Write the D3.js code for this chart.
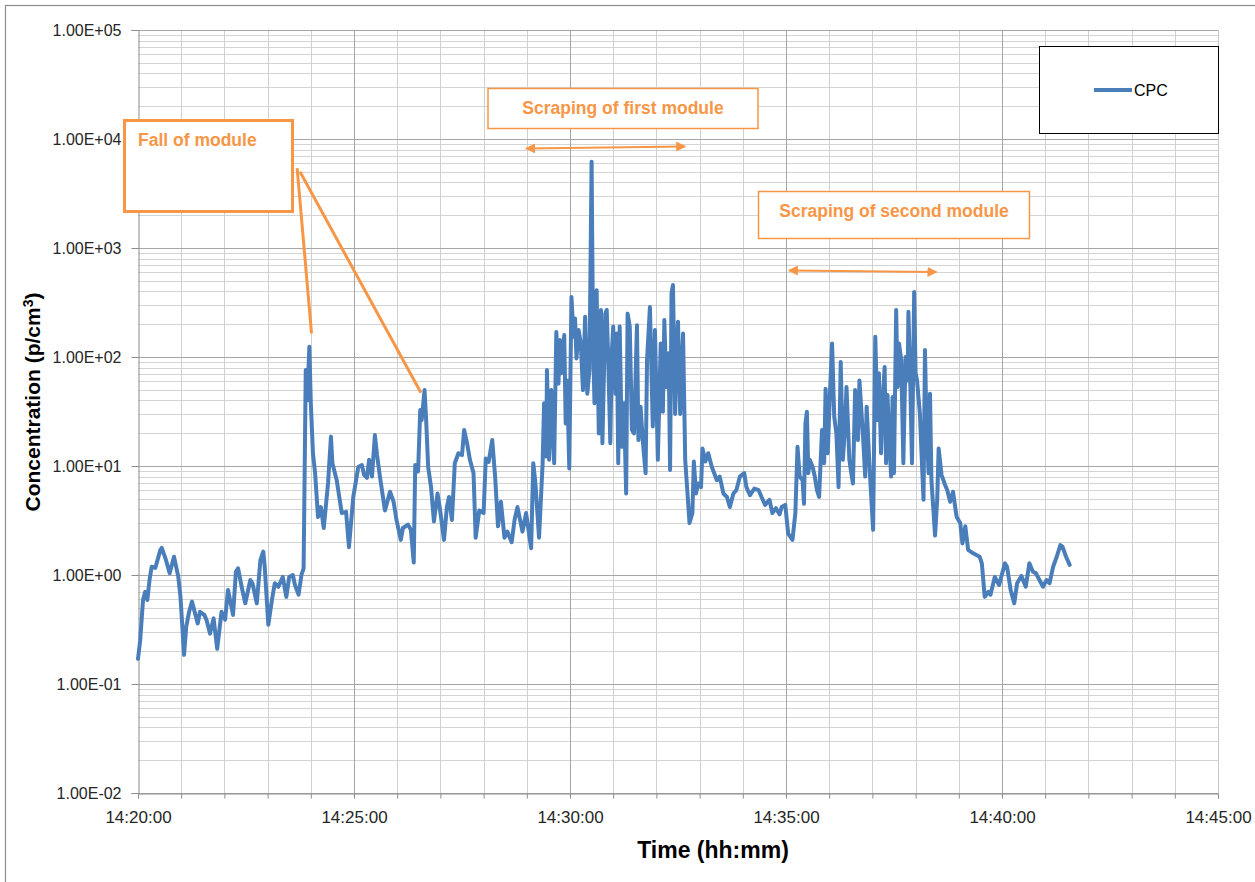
<!DOCTYPE html>
<html>
<head>
<meta charset="utf-8">
<script src="https://cdn.jsdelivr.net/npm/d3@7/dist/d3.min.js"></script>
<style>
body { margin: 0; background: #fff; }
text { font-family: "Liberation Sans", Arial, sans-serif; }
</style>
</head>
<body>
<svg width="1255" height="882"></svg>
<script>
// CPC readings: [seconds after 14:20:00, concentration p/cm3]
var background = [[0,0.17],[3,0.25],[7,0.59],[10,0.70],[13,0.59],[16,0.9],[19,1.19],[24,1.16],[31,1.69],[33,1.77],[38,1.43],[44,1.04],[50,1.47],[56,0.96],[59,0.63],[64,0.185],[67,0.336],[71,0.46],[75,0.57],[79,0.45],[83,0.36],[86,0.46],[92,0.43],[95,0.39],[100,0.29],[105,0.40],[110,0.21],[116,0.46],[121,0.39],[125,0.73],[132,0.43],[136,1.07],[139,1.15],[144,0.78],[149,0.55],[156,0.9],[159,0.84],[165,0.55],[170,1.37],[174,1.64],[176,1.19],[181,0.35],[186,0.59],[190,0.84],[195,0.78],[201,0.96],[206,0.63],[210,0.96],[215,1.0],[218,0.81],[223,0.66],[227,1.0],[230,1.15]]
var afterFall = [[233,76],[235,40],[238,124],[240,38],[243,13],[246,8.6],[250,3.4],[254,4.2],[258,2.7],[264,7],[268,18.6],[270,10.6],[276,7.4],[283,3.7],[289,3.8],[293,1.8],[299,5.2],[306,9.8],[311,10.2],[314,8.3],[318,7.8],[321,11.4],[325,8.0],[329,19.2],[332,12.6],[336,8.0],[343,3.9],[350,5.8],[355,4.7],[359,3.2],[365,2.1],[368,2.7],[375,2.9],[379,2.6],[383,1.3],[385,10.2],[389,8.9],[392,32.6],[394,26.4],[398,49.7],[400,28.3],[403,9.8],[407,6.4],[411,3.1],[416,5.6],[419,4.2],[425,2.1],[429,4.2],[432,5.2],[436,3.2],[440,10.6],[445,13.1],[450,12.6],[453,21.4],[457,16.2],[461,11.4]]
var firstScrape = [[466,8.6],[469,2.2],[474,3.9],[480,3.7],[483,11.7],[487,10.9],[492,17.3],[496,8.0],[500,2.8],[504,4.7],[509,2.2],[513,2.5],[519,2.0],[523,3.2],[527,4.2],[534,2.5],[539,3.7],[546,1.76],[549,10.6],[552,6.9],[557,2.2],[562,10.6],[564,37.6],[567,12.2],[568,76],[571,11.4],[574,49.7],[578,10.6],[581,170],[584,57],[586,143],[588,71],[592,159],[594,24.6],[596,61],[599,9.5],[602,356],[605,153],[607,226],[609,97],[612,177],[615,133],[618,49.7],[621,234],[624,46],[627,76],[630,6200],[632,143],[634,37.6],[637,410],[640,19.9],[643,270],[645,16.2],[649,250],[651,270],[653,100],[656,16.2],[658,108],[660,190],[663,46],[665,164],[667,10.6],[669,190],[672,15],[675,37.6],[678,5.6],[680,250],[683,190],[686,21.4],[689,19.9],[693,196],[695,17.3],[698,35],[701,17.3],[705,8.6],[707,94],[711,287],[715,23],[718,177],[720,46],[722,11.4],[726,133],[729,31.5],[731,218],[734,53],[737,108],[739,9.2],[741,385],[743,457],[746,30],[748,108],[750,211],[753,30],[755,71],[757,164]]
var betweenScrapes = [[760,11.4],[766,3.0],[770,3.7],[772,11],[775,5.6],[778,6.9],[782,6.4],[784,14.5],[788,11],[792,13.1],[797,9.8],[804,7.4],[808,8.0],[813,5.6],[818,5.2],[822,4.2],[827,5.6],[831,6.0],[836,8.0],[842,8.6],[845,6.4],[850,5.4],[856,6.2],[862,6.0],[866,5.2],[871,4.4],[877,4.9],[881,3.7],[886,4.1],[891,3.6],[894,4.2],[899,4.4],[903,2.4],[909,2.1],[913,3.7]]
var secondScrape = [[916,15],[919,8.0],[923,7.4],[925,4.5],[927,24.6],[929,31.5],[931,8.6],[933,11.4],[937,9.8],[940,8.0],[943,6.0],[946,5.2],[950,21.4],[953,10.6],[955,51],[958,13.1],[961,46],[964,133],[967,28.3],[970,19.9],[973,6.4],[976,90],[979,11.4],[982,23],[984,53],[988,11.4],[990,9.2],[993,6.9],[996,49.7],[1000,17.3],[1002,61],[1007,18.6],[1010,8.0],[1012,35],[1016,9.8],[1021,2.6],[1024,153],[1027,26.4],[1029,71],[1032,13.1],[1034,35],[1037,81],[1039,10.6],[1041,44.7],[1043,19.9],[1046,8.0],[1048,43],[1050,8.6],[1053,270],[1055,53],[1057,133],[1060,94],[1063,10.6],[1066,100],[1069,61],[1070,260],[1072,87],[1075,10.6],[1078,395],[1080,71],[1082,61],[1086,30],[1089,9.8],[1091,4.9],[1093,116],[1095,26.4],[1098,8.6],[1100,46],[1102,7.4],[1105,3.7],[1107,2.3],[1110,4.9]]
var tail = [[1112,14.5],[1116,8.3],[1121,6.7],[1124,6.0],[1128,4.7],[1132,5.8],[1137,3.4],[1142,3.0],[1145,1.95],[1149,2.8],[1153,1.7],[1160,1.58],[1169,1.47],[1172,1.28],[1176,0.63],[1181,0.70],[1184,0.66],[1190,0.96],[1196,0.81],[1204,1.28],[1207,1.19],[1212,0.73],[1217,0.55],[1221,0.84],[1227,0.98],[1233,0.78],[1238,1.28],[1243,1.07],[1247,1.04],[1252,0.9],[1257,0.78],[1262,0.9],[1266,0.84],[1271,1.19],[1276,1.47],[1281,1.88],[1284,1.82],[1289,1.47],[1294,1.24]]

var seriesName = "CPC"
var xTickSecs = [0, 300, 600, 900, 1200, 1500]
var xTickLabels = ["14:20:00", "14:25:00", "14:30:00", "14:35:00", "14:40:00", "14:45:00"]
var yTickValues = [1e-2, 1e-1, 1e0, 1e1, 1e2, 1e3, 1e4, 1e5]
var yTickLabels = ["1.00E-02", "1.00E-01", "1.00E+00", "1.00E+01", "1.00E+02", "1.00E+03", "1.00E+04", "1.00E+05"]
var noteTexts = ["Fall of module", "Scraping of first module", "Scraping of second module"]
// scraping periods (seconds after 14:20:00)
var firstPeriod = [539, 760]
var secondPeriod = [904, 1109]

var orange = "#f79646"
var blue = "#4a7ebb"
var svg = d3.select("svg")

var x = d3.scaleLinear().domain([0, 1500]).range([138, 1218])
var y = d3.scaleLog().domain([1e-2, 1e5]).range([793, 30])

var data = [].concat(background, afterFall, firstScrape, betweenScrapes, secondScrape, tail)
    .map(d => ({ t: d[0], v: d[1] }))

// outer frame (right and bottom edges fall outside the picture)
svg.append("rect").attr("x", 5.5).attr("y", 5.5).attr("width", 1260).attr("height", 890)
    .attr("fill", "#fff").attr("stroke", "#8c8c8c").attr("stroke-width", 1.2)

var grid = svg.append("g")
// horizontal minor gridlines
var minors = []
yTickValues.slice(0, -1).forEach(d => { for (var k = 2; k < 10; k++) minors.push(d * k) })
grid.selectAll(".hmin").data(minors).enter().append("line")
    .attr("x1", 138).attr("x2", 1218)
    .attr("y1", d => Math.round(y(d)) + 0.5).attr("y2", d => Math.round(y(d)) + 0.5)
    .attr("stroke", "#d4d4d4").attr("stroke-width", 1)
// vertical minute gridlines
var minutes = d3.range(60, 1500, 60)
grid.selectAll(".vmin").data(minutes).enter().append("line")
    .attr("x1", d => Math.round(x(d)) + 0.5).attr("x2", d => Math.round(x(d)) + 0.5)
    .attr("y1", 30).attr("y2", 793)
    .attr("stroke", d => d % 300 === 0 ? "#a6a6a6" : "#d0d0d0").attr("stroke-width", 1)
grid.selectAll(".hmaj").data(yTickValues).enter().append("line")
    .attr("x1", 138).attr("x2", 1218)
    .attr("y1", d => Math.round(y(d)) + 0.5).attr("y2", d => Math.round(y(d)) + 0.5)
    .attr("stroke", "#a6a6a6").attr("stroke-width", 1)
grid.append("line").attr("x1", 1218.5).attr("x2", 1218.5).attr("y1", 30).attr("y2", 793)
    .attr("stroke", "#c8c8c8")

// axes
var yAxis = d3.axisLeft(y).tickValues(yTickValues).tickSize(7).tickPadding(10)
    .tickFormat((d, i) => yTickLabels[i])
var gy = svg.append("g").attr("transform", "translate(138.5,0)").call(yAxis)
var xAxis = d3.axisBottom(x).tickValues(d3.range(0, 1501, 60)).tickSize(5).tickPadding(12)
    .tickFormat(d => { var i = xTickSecs.indexOf(d); return i < 0 ? "" : xTickLabels[i] })
var gx = svg.append("g").attr("transform", "translate(0,793.5)").call(xAxis)
;[gx, gy].forEach(g => {
    g.selectAll(".domain").attr("stroke", "#8c8c8c")
    g.selectAll(".tick line").attr("stroke", "#8c8c8c")
    g.selectAll("text").attr("fill", "#262626").style("font-family", "Liberation Sans, Arial, sans-serif")
})
gy.selectAll("text").style("font-size", "16px")
gx.selectAll("text").style("font-size", "17px")

// axis titles
svg.append("text").attr("x", 713).attr("y", 858).attr("text-anchor", "middle")
    .attr("font-weight", "bold").attr("font-size", 23).attr("fill", "#000").text("Time (hh:mm)")
var yt = svg.append("text").attr("transform", "translate(40,402) rotate(-90)").attr("text-anchor", "middle")
    .attr("font-weight", "bold").attr("font-size", 21).attr("fill", "#000")
yt.append("tspan").text("Concentration (p/cm")
yt.append("tspan").attr("dy", -7).attr("font-size", 14).text("3")
yt.append("tspan").attr("dy", 7).text(")")

// series
var line = d3.line().x(d => x(d.t)).y(d => y(d.v))
svg.append("path").datum(data).attr("d", line)
    .attr("fill", "none").attr("stroke", blue).attr("stroke-width", 4)
    .attr("stroke-linejoin", "round").attr("stroke-linecap", "round")

// legend
var lg = svg.append("g")
lg.append("rect").attr("x", 1039.5).attr("y", 46.5).attr("width", 179).attr("height", 87)
    .attr("fill", "#fff").attr("stroke", "#000").attr("stroke-width", 1)
lg.append("line").attr("x1", 1094).attr("x2", 1132).attr("y1", 90).attr("y2", 90)
    .attr("stroke", blue).attr("stroke-width", 4)
lg.append("text").attr("x", 1134).attr("y", 96).attr("font-size", 16).attr("fill", "#000").text(seriesName)

// annotations
var defs = svg.append("defs")
defs.append("marker").attr("id", "ah").attr("viewBox", "0 0 10 10").attr("refX", 9).attr("refY", 5)
    .attr("markerWidth", 5).attr("markerHeight", 5).attr("orient", "auto-start-reverse")
    .append("path").attr("d", "M0,0 L10,5 L0,10 Z").attr("fill", orange)

var ann = svg.append("g")
// fall of module callout
ann.append("line").attr("x1", x(221)).attr("y1", y(5400)).attr("x2", x(241)).attr("y2", y(165))
    .attr("stroke", orange).attr("stroke-width", 3)
ann.append("line").attr("x1", x(225)).attr("y1", y(5000)).attr("x2", x(393)).attr("y2", y(47))
    .attr("stroke", orange).attr("stroke-width", 3)
ann.append("rect").attr("x", 124.5).attr("y", 120.5).attr("width", 168).attr("height", 91)
    .attr("fill", "#fff").attr("stroke", orange).attr("stroke-width", 3)
ann.append("text").attr("x", 138).attr("y", 146).attr("font-size", 17.5).attr("font-weight", "bold")
    .attr("fill", orange).text(noteTexts[0])

// scraping boxes
ann.append("rect").attr("x", 488).attr("y", 88.5).attr("width", 270).attr("height", 40)
    .attr("fill", "#fff").attr("stroke", orange).attr("stroke-width", 1.5)
ann.append("text").attr("x", 623).attr("y", 114).attr("text-anchor", "middle").attr("font-size", 17.5)
    .attr("font-weight", "bold").attr("fill", orange).text(noteTexts[1])
ann.append("rect").attr("x", 758.5).attr("y", 191.5).attr("width", 271).attr("height", 47)
    .attr("fill", "#fff").attr("stroke", orange).attr("stroke-width", 1.5)
ann.append("text").attr("x", 894).attr("y", 217).attr("text-anchor", "middle").attr("font-size", 17.5)
    .attr("font-weight", "bold").attr("fill", orange).text(noteTexts[2])

// period arrows
ann.append("line").attr("x1", x(firstPeriod[0])).attr("x2", x(firstPeriod[1]))
    .attr("y1", 148.5).attr("y2", 146.5)
    .attr("stroke", orange).attr("stroke-width", 2)
    .attr("marker-start", "url(#ah)").attr("marker-end", "url(#ah)")
ann.append("line").attr("x1", x(secondPeriod[0])).attr("x2", x(secondPeriod[1]))
    .attr("y1", 270.5).attr("y2", 272)
    .attr("stroke", orange).attr("stroke-width", 2)
    .attr("marker-start", "url(#ah)").attr("marker-end", "url(#ah)")
</script>
</body>
</html>
